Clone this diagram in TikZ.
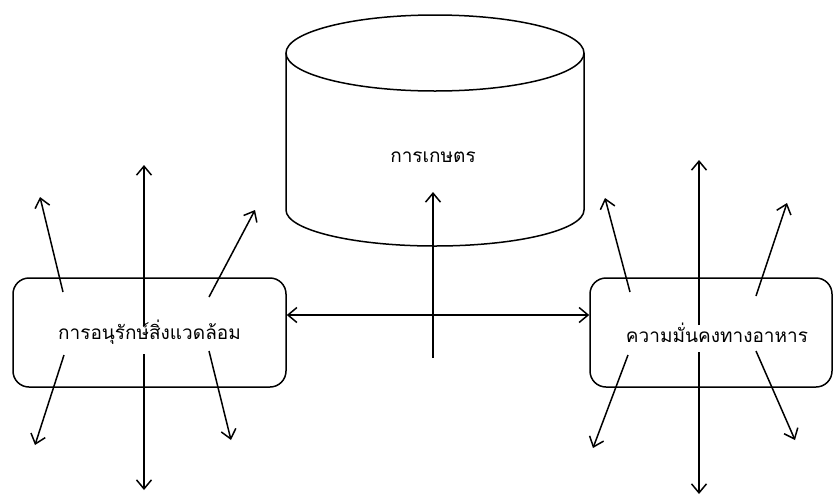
\documentclass[tikz,border=0pt]{standalone}
\usepackage{fontspec}
\newfontfamily\thaifont[Script=Thai]{Loma}
\usepackage{tikz}
\usetikzlibrary{arrows.meta,positioning}

\begin{document}
\begin{tikzpicture}[
    x=1pt, y=-1pt,
    font=\thaifont\fontsize{19}{22}\selectfont,
    box/.style={draw, rectangle, rounded corners=16pt, line width=1.5pt, align=center, inner sep=0pt},
    arrow/.style={-{Straight Barb[length=9pt,width=15pt]}, line width=1.5pt}
]
    \useasboundingbox (0,0) rectangle (833,496);

    % Cylinder
    \draw[line width=1.5pt] (286,53) -- (286,210) arc[start angle=180, end angle=0, x radius=149, y radius=36] -- (584,53);
    \draw[line width=1.5pt] (435,53) ellipse[x radius=149, y radius=38];
    \node (agri) at (433,157) {การเกษตร};

    % Boxes
    \node[box, minimum width=273pt, minimum height=109pt] (env) at (149.5,332.5) {การอนุรักษ์สิ่งแวดล้อม};
    \node[box, minimum width=242pt, minimum height=109pt] (food) at (711,332.5) {\hspace*{12pt}ความมั่นคงทางอาหาร};

    % Centre arrows
    \coordinate (c0) at (433,358);
    \coordinate (c1) at (433,192);
    \draw[arrow] (c0) -- (c1);
    \draw[arrow, {Straight Barb[length=9pt,width=15pt]}-{Straight Barb[length=9pt,width=15pt]}] ([yshift=17.5pt]env.east) -- ([yshift=17.5pt]food.west);

    % Left arrows
    \coordinate (l1) at (144,326);  \coordinate (l1e) at (144,165);
    \coordinate (l2) at (144,354);  \coordinate (l2e) at (144,490);
    \coordinate (l3) at (63,292);   \coordinate (l3e) at (40,197);
    \coordinate (l4) at (209,297);  \coordinate (l4e) at (255,210);
    \coordinate (l5) at (64,355);   \coordinate (l5e) at (35,445);
    \coordinate (l6) at (209,351);  \coordinate (l6e) at (231,440);
    \foreach \i in {1,...,6} \draw[arrow] (l\i) -- (l\i e);

    % Right arrows
    \coordinate (r1) at (699,325);  \coordinate (r1e) at (699,160);
    \coordinate (r2) at (699,352);  \coordinate (r2e) at (699,494);
    \coordinate (r3) at (630,292);  \coordinate (r3e) at (605,198);
    \coordinate (r4) at (756,296);  \coordinate (r4e) at (787,203);
    \coordinate (r5) at (628,355);  \coordinate (r5e) at (593,448);
    \coordinate (r6) at (756,351);  \coordinate (r6e) at (795,440);
    \foreach \i in {1,...,6} \draw[arrow] (r\i) -- (r\i e);

\end{tikzpicture}
\end{document}
